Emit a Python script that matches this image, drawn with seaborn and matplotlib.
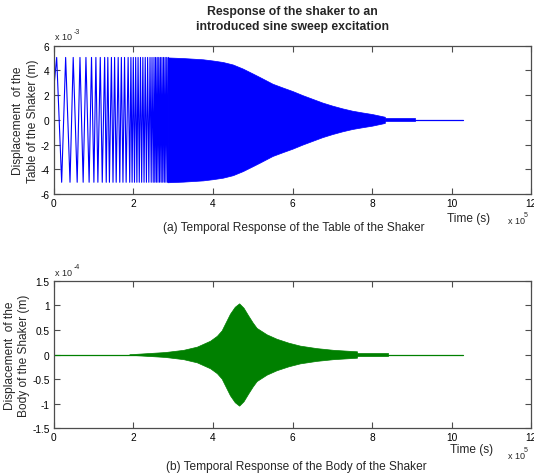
import matplotlib
matplotlib.use("Agg")
import matplotlib.pyplot as plt
import seaborn as sns
import numpy as np
import pandas as pd

# ---------------- data (time in 1e5 s) ----------------
# (a) table of the shaker, displacement in 1e-3 m
top_peak_t = [0.00, 0.075, 0.20, 0.30, 0.41, 0.49, 0.59, 0.66, 0.74, 0.81, 0.89, 0.95,
              1.01, 1.06, 1.11, 1.17, 1.22, 1.28, 1.32, 1.36, 1.40, 1.45, 1.49, 1.53,
              1.57, 1.62, 1.66, 1.70, 1.74, 1.78, 1.82, 1.87, 1.91, 1.94, 1.97, 2.00,
              2.03, 2.06, 2.09, 2.12, 2.15, 2.18, 2.21, 2.24, 2.27, 2.30, 2.33, 2.36,
              2.39, 2.42, 2.45, 2.47, 2.50, 2.52, 2.54, 2.56, 2.58, 2.60, 2.62, 2.64,
              2.66, 2.68, 2.70, 2.72, 2.74, 2.76, 2.78, 2.80, 2.82, 2.84, 2.86, 2.88]
top_peak_y = [2.5, 5.05, -5.05, 5.05, -5.05, 5.05, -5.05, 5.05, -5.05, 5.05, -5.05, 5.05,
              -5.05, 5.05, -5.05, 5.05, -5.05, 5.05, -5.05, 5.05, -5.05, 5.05, -5.05, 5.05,
              -5.05, 5.05, -5.05, 5.05, -5.05, 5.05, -5.05, 5.05, -5.05, 5.05, -5.05, 5.05,
              -5.05, 5.05, -5.05, 5.05, -5.05, 5.05, -5.05, 5.05, -5.05, 5.05, -5.05, 5.05,
              -5.05, 5.05, -5.05, 5.05, -5.05, 5.05, -5.05, 5.05, -5.05, 5.05, -5.05, 5.05,
              -5.05, 5.05, -5.05, 5.05, -5.05, 5.05, -5.05, 5.05, -5.05, 5.05, -5.05, 5.05]
top_env_t = [2.86, 3.25, 3.50, 3.75, 4.00, 4.25, 4.50, 4.75, 5.00, 5.19, 5.50, 5.75,
             6.00, 6.25, 6.50, 6.75, 7.00, 7.25, 7.50, 7.75, 8.00, 8.32]
top_env_y = [5.05, 5.00, 4.95, 4.90, 4.80, 4.68, 4.48, 4.15, 3.75, 3.44, 2.92, 2.62,
             2.33, 2.00, 1.70, 1.40, 1.15, 0.93, 0.74, 0.60, 0.47, 0.25]
top_band_t = [8.32, 9.08]
top_band_y = [0.12, 0.12]
top_line_t = [9.08, 10.28]
top_line_y = [0.0, 0.0]

# (b) body of the shaker, displacement in 1e-4 m
bot_env_t = [1.90, 2.40, 2.80, 3.26, 3.60, 3.93, 4.10, 4.22, 4.30, 4.43, 4.55, 4.66,
             4.77, 4.89, 5.00, 5.10, 5.35, 5.60, 5.90, 6.19, 6.60, 7.02, 7.62]
bot_env_y = [0.005, 0.03, 0.05, 0.095, 0.16, 0.28, 0.38, 0.49, 0.62, 0.83, 0.97, 1.04,
             0.95, 0.79, 0.65, 0.54, 0.41, 0.32, 0.24, 0.18, 0.13, 0.095, 0.065]
bot_band_t = [7.62, 8.40]
bot_band_y = [0.037, 0.037]
bot_line_t = [0.0, 10.28]
bot_line_y = [0.0, 0.0]

x_ticks = [0, 2, 4, 6, 8, 10, 12]
top_yticks = [-6, -4, -2, 0, 2, 4, 6]
bot_yticks = [-1.5, -1, -0.5, 0, 0.5, 1, 1.5]
bot_yticklabels = ["-1.5", "-1", "-0.5", "0", "0.5", "1", "1.5"]

# ---------------- style ----------------
sns.set_theme(style="ticks")
plt.rcParams["font.family"] = ["Liberation Sans", "DejaVu Sans"]
plt.rcParams["axes.unicode_minus"] = False

W, H = 534, 477
fig = plt.figure(figsize=(W / 100, H / 100), dpi=100)

def fx(x):
    return x / W

def fy(y):
    return 1 - y / H

def make_axes(y_top, y_bot):
    ax = fig.add_axes([fx(53.7), fy(y_bot), fx(531.3) - fx(53.7), fy(y_top) - fy(y_bot)])
    for s in ax.spines.values():
        s.set_visible(True)
        s.set_color("#4d4d4d")
        s.set_linewidth(0.9)
    ax.tick_params(direction="in", length=4, width=0.8, color="#4d4d4d",
                   top=True, right=True, labelsize=7.3, labelcolor="black", pad=3)
    ax.set_xlim(0, 12)
    ax.set_xticks(x_ticks)
    return ax

BLUE = "#0000ff"
GREEN = "#008000"

# ---- top panel ----
ax1 = make_axes(46.7, 195)
df_peaks = pd.DataFrame({"t": top_peak_t, "y": top_peak_y})
sns.lineplot(data=df_peaks, x="t", y="y", ax=ax1, color=BLUE, lw=0.8,
             estimator=None, sort=False)
ax1.fill_between(top_env_t, [-v for v in top_env_y], top_env_y, color=BLUE, lw=0.5)
ax1.fill_between(top_band_t, [-v for v in top_band_y], top_band_y, color=BLUE, lw=0.5)
sns.lineplot(x=top_line_t, y=top_line_y, ax=ax1, color=BLUE, lw=0.9, estimator=None)
ax1.set_ylim(-6, 6)
ax1.set_yticks(top_yticks)
ax1.set_xlabel("")
ax1.set_ylabel("")

# ---- bottom panel ----
ax2 = make_axes(281.7, 429.3)
sns.lineplot(x=bot_line_t, y=bot_line_y, ax=ax2, color=GREEN, lw=0.9, estimator=None)
ax2.fill_between(bot_env_t, [-v for v in bot_env_y], bot_env_y, color=GREEN, lw=0.5)
ax2.fill_between(bot_band_t, [-v for v in bot_band_y], bot_band_y, color=GREEN, lw=0.5)
ax2.set_ylim(-1.5, 1.5)
ax2.set_yticks(bot_yticks)
ax2.set_yticklabels(bot_yticklabels)
ax2.set_xlabel("")
ax2.set_ylabel("")

# ---------------- texts ----------------
def txt(x, y, s, **kw):
    fig.text(fx(x), fy(y), s, **kw)

txt(292.5, 12, "Response of the shaker to an", ha="center", va="center",
    fontsize=8.8, fontweight="bold")
txt(292.5, 27, "introduced sine sweep excitation", ha="center", va="center",
    fontsize=8.8, fontweight="bold")

# scale factors
txt(55, 38, "x 10", ha="left", va="center", fontsize=6.5)
txt(73.5, 32, "-3", ha="left", va="center", fontsize=5)
txt(55, 273.5, "x 10", ha="left", va="center", fontsize=6.5)
txt(73.5, 267.5, "-4", ha="left", va="center", fontsize=5)
txt(507.5, 222, "x 10", ha="left", va="center", fontsize=6.5)
txt(524, 215.5, "5", ha="left", va="center", fontsize=5)
txt(507.5, 457, "x 10", ha="left", va="center", fontsize=6.5)
txt(524, 450.5, "5", ha="left", va="center", fontsize=5)

# x labels
txt(468.8, 219, "Time (s)", ha="center", va="center", fontsize=8.6)
txt(471.7, 449.5, "Time (s)", ha="center", va="center", fontsize=8.6)
txt(294, 228.5, "(a) Temporal Response of the Table of the Shaker", ha="center",
    va="center", fontsize=8.6)
txt(296, 467.5, "(b) Temporal Response of the Body of the Shaker", ha="center",
    va="center", fontsize=8.6)

# y labels
txt(18.5, 120.8, "Displacement  of the", ha="center", va="center", rotation=90, fontsize=8.6)
txt(33.3, 120.8, "Table of the Shaker (m)", ha="center", va="center", rotation=90, fontsize=8.6)
txt(10, 355.8, "Displacement  of the", ha="center", va="center", rotation=90, fontsize=8.6)
txt(23.5, 355.8, "Body of the Shaker (m)", ha="center", va="center", rotation=90, fontsize=8.6)

fig.savefig("out.png", dpi=100)
